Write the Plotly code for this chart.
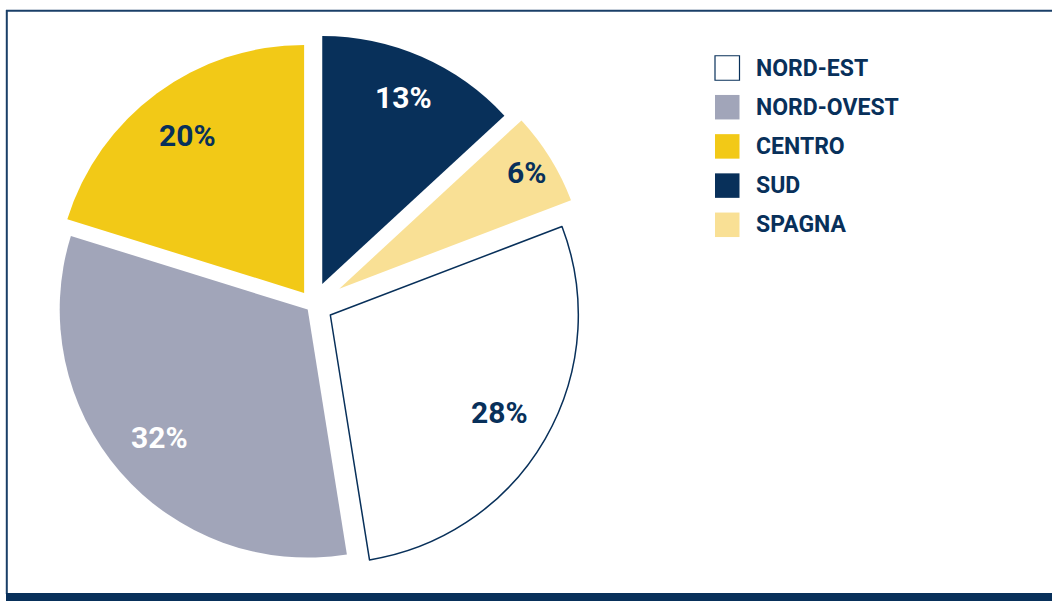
import math
import plotly.graph_objects as go

# ---- data ----
labels = ["SUD", "SPAGNA", "NORD-EST", "NORD-OVEST", "CENTRO"]
values = [13, 6, 28, 32, 20]
legend_order = ["NORD-EST", "NORD-OVEST", "CENTRO", "SUD", "SPAGNA"]

# ---- styles ----
NAVY = "#08305a"
colors = {
    "SUD": NAVY,
    "SPAGNA": "#f9e095",
    "NORD-EST": "#ffffff",
    "NORD-OVEST": "#a1a5b9",
    "CENTRO": "#f2c917",
}
text_colors = {
    "SUD": "#ffffff",
    "SPAGNA": NAVY,
    "NORD-EST": NAVY,
    "NORD-OVEST": "#ffffff",
    "CENTRO": NAVY,
}
# explode offsets (pixels) and label radius (fraction of radius)
pull_px = {"SUD": 23, "SPAGNA": 31, "NORD-EST": 20, "NORD-OVEST": 7, "CENTRO": 15}
label_frac = {"SUD": 0.82, "SPAGNA": 0.89, "NORD-EST": 0.79, "NORD-OVEST": 0.79, "CENTRO": 0.79}

W, H = 1052, 601
CX, CY, R = 313, 305, 248  # pie centre / radius in pixels


def px(x):
    return x / W


def py(y):
    return 1 - y / H


pulls = [pull_px[l] / R for l in labels]
half = R * (1 + max(pulls))

fig = go.Figure()
fig.add_trace(go.Pie(
    labels=labels,
    values=values,
    sort=False,
    direction="clockwise",
    rotation=0,
    pull=pulls,
    marker=dict(
        colors=[colors[l] for l in labels],
        line=dict(color=[NAVY if l == "NORD-EST" else "rgba(0,0,0,0)" for l in labels],
                  width=[1.5 if l == "NORD-EST" else 0 for l in labels]),
    ),
    textinfo="none",
    domain=dict(x=[px(CX - half), px(CX + half)],
                y=[py(CY + half), py(CY - half)]),
    showlegend=False,
    hoverinfo="label+percent",
))

shapes = []
annotations = []

# slice labels, placed along each slice's mid-angle
total = sum(values)
cum = 0
for lab, v in zip(labels, values):
    mid = math.radians((cum + v / 2) / total * 360)
    cum += v
    d = pull_px[lab] + label_frac[lab] * R
    x = CX + d * math.sin(mid)
    y = CY - d * math.cos(mid)
    annotations.append(dict(
        xref="paper", yref="paper", x=px(x), y=py(y),
        xanchor="center", yanchor="middle", showarrow=False,
        text=f"<b>{v}%</b>",
        font=dict(family="Roboto", size=30, color=text_colors[lab]),
    ))

# frame
shapes.append(dict(type="line", xref="paper", yref="paper",
                   x0=px(6), x1=1.0, y0=py(10.8), y1=py(10.8),
                   line=dict(color="#1a3f68", width=2)))
shapes.append(dict(type="line", xref="paper", yref="paper",
                   x0=px(6.8), x1=px(6.8), y0=py(10), y1=py(594),
                   line=dict(color="#1a3f68", width=2)))
shapes.append(dict(type="rect", xref="paper", yref="paper",
                   x0=px(6), x1=1.0, y0=0, y1=py(593),
                   fillcolor=NAVY, line=dict(width=0)))

# legend
LX, LY0, LSTEP, LSIZE = 715, 68, 39.2, 24.5
for i, lab in enumerate(legend_order):
    yc = LY0 + i * LSTEP
    shapes.append(dict(
        type="rect", xref="paper", yref="paper",
        x0=px(LX), x1=px(LX + LSIZE),
        y0=py(yc + LSIZE / 2), y1=py(yc - LSIZE / 2),
        fillcolor=colors[lab],
        line=dict(color=NAVY if lab == "NORD-EST" else colors[lab],
                  width=1.2 if lab == "NORD-EST" else 0),
    ))
    annotations.append(dict(
        xref="paper", yref="paper", x=px(754), y=py(yc),
        xanchor="left", yanchor="middle", showarrow=False,
        text=f"<b>{lab}</b>",
        font=dict(family="Roboto", size=23, color=NAVY),
    ))

fig.update_layout(
    width=W, height=H,
    margin=dict(l=0, r=0, t=0, b=0),
    paper_bgcolor="white",
    plot_bgcolor="white",
    shapes=shapes,
    annotations=annotations,
    showlegend=False,
)

fig.write_html("out.html",
               config={"displayModeBar": False},
               post_script="document.body.style.margin='0';document.body.style.overflow='hidden';")
